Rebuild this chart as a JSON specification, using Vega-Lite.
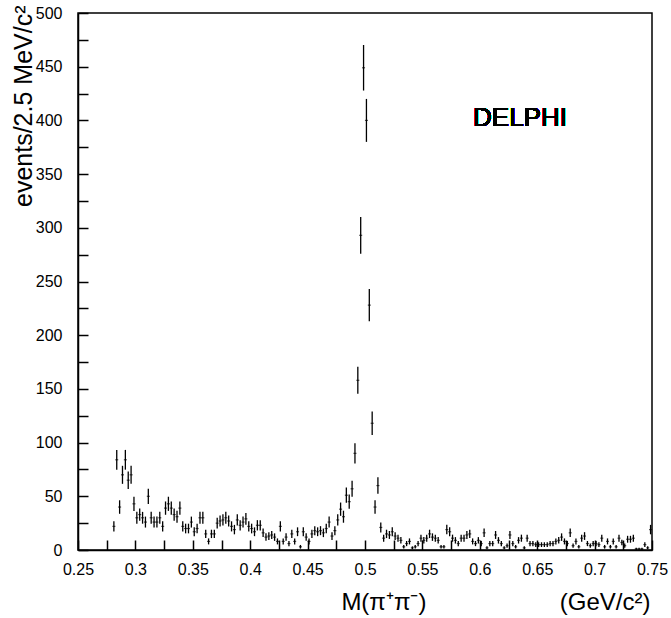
{
  "$schema": "https://vega.github.io/schema/vega-lite/v6.json",
  "width": 574,
  "height": 537,
  "autosize": {"type": "none"},
  "padding": {"left": 78, "top": 13, "right": 19, "bottom": 68},
  "background": "white",
  "config": {
    "view": {"stroke": "black", "strokeWidth": 1.5},
    "axis": {"labelFont": "Liberation Sans", "titleFont": "Liberation Sans", "labelColor": "black", "titleColor": "black", "domainColor": "black", "tickColor": "black", "titleFontWeight": "normal", "grid": false, "domainWidth": 1.5, "tickWidth": 1.5, "labelOverlap": false, "labelFlush": false, "ticks": true}
  },
  "data": {"values": [
    {"m":0.28125,"n":22,"e":4.7},{"m":0.28375,"n":84,"e":9.2},{"m":0.28625,"n":40,"e":6.3},{"m":0.28875,"n":70,"e":8.4},{"m":0.29125,"n":84,"e":9.2},{"m":0.29375,"n":65,"e":8.1},{"m":0.29625,"n":70,"e":8.4},{"m":0.29875,"n":43,"e":6.6},{"m":0.30125,"n":30,"e":5.5},{"m":0.30375,"n":33,"e":5.7},
    {"m":0.30625,"n":30,"e":5.5},{"m":0.30875,"n":26,"e":5.1},{"m":0.31125,"n":50,"e":7.1},{"m":0.31375,"n":30,"e":5.5},{"m":0.31625,"n":26,"e":5.1},{"m":0.31875,"n":26,"e":5.1},{"m":0.32125,"n":30,"e":5.5},{"m":0.32375,"n":22,"e":4.7},{"m":0.32625,"n":39,"e":6.2},{"m":0.32875,"n":43,"e":6.6},
    {"m":0.33125,"n":39,"e":6.2},{"m":0.33375,"n":33,"e":5.7},{"m":0.33625,"n":31,"e":5.6},{"m":0.33875,"n":39,"e":6.2},{"m":0.34125,"n":22,"e":4.7},{"m":0.34375,"n":20,"e":4.5},{"m":0.34625,"n":20,"e":4.5},{"m":0.34875,"n":26,"e":5.1},{"m":0.35125,"n":17,"e":4.1},{"m":0.35375,"n":20,"e":4.5},
    {"m":0.35625,"n":30,"e":5.5},{"m":0.35875,"n":30,"e":5.5},{"m":0.36125,"n":15,"e":3.9},{"m":0.36375,"n":8,"e":2.8},{"m":0.36625,"n":15,"e":3.9},{"m":0.36875,"n":15,"e":3.9},{"m":0.37125,"n":25,"e":5},{"m":0.37375,"n":27,"e":5.2},{"m":0.37625,"n":28,"e":5.3},{"m":0.37875,"n":30,"e":5.5},
    {"m":0.38125,"n":27,"e":5.2},{"m":0.38375,"n":22,"e":4.7},{"m":0.38625,"n":19,"e":4.4},{"m":0.38875,"n":28,"e":5.3},{"m":0.39125,"n":23,"e":4.8},{"m":0.39375,"n":26,"e":5.1},{"m":0.39625,"n":29,"e":5.4},{"m":0.39875,"n":22,"e":4.7},{"m":0.40125,"n":20,"e":4.5},{"m":0.40375,"n":17,"e":4.1},
    {"m":0.40625,"n":23,"e":4.8},{"m":0.40875,"n":23,"e":4.8},{"m":0.41125,"n":16,"e":4},{"m":0.41375,"n":12,"e":3.5},{"m":0.41625,"n":13,"e":3.6},{"m":0.41875,"n":14,"e":3.7},{"m":0.42125,"n":12,"e":3.5},{"m":0.42375,"n":8,"e":2.8},{"m":0.42625,"n":22,"e":4.7},{"m":0.42875,"n":8,"e":2.8},
    {"m":0.43125,"n":12,"e":3.5},{"m":0.43375,"n":6,"e":2.4},{"m":0.43625,"n":15,"e":3.9},{"m":0.43875,"n":8,"e":2.8},{"m":0.44125,"n":17,"e":4.1},{"m":0.44375,"n":3,"e":1.7},{"m":0.44625,"n":17,"e":4.1},{"m":0.44875,"n":12,"e":3.5},{"m":0.45125,"n":8,"e":2.8},{"m":0.45375,"n":15,"e":3.9},
    {"m":0.45625,"n":18,"e":4.2},{"m":0.45875,"n":17,"e":4.1},{"m":0.46125,"n":18,"e":4.2},{"m":0.46375,"n":16,"e":4},{"m":0.46625,"n":20,"e":4.5},{"m":0.46875,"n":26,"e":5.1},{"m":0.47125,"n":13,"e":3.6},{"m":0.47375,"n":18,"e":4.2},{"m":0.47625,"n":28,"e":5.3},{"m":0.47875,"n":38,"e":6.2},
    {"m":0.48125,"n":31,"e":5.6},{"m":0.48375,"n":51,"e":7.1},{"m":0.48625,"n":45,"e":6.7},{"m":0.48875,"n":57,"e":7.5},{"m":0.49125,"n":90,"e":9.5},{"m":0.49375,"n":158,"e":12.6},{"m":0.49625,"n":293,"e":17.1},{"m":0.49875,"n":449,"e":21.2},{"m":0.50125,"n":400,"e":20},{"m":0.50375,"n":228,"e":15.1},
    {"m":0.50625,"n":118,"e":10.9},{"m":0.50875,"n":40,"e":6.3},{"m":0.51125,"n":60,"e":7.7},{"m":0.51375,"n":21,"e":4.6},{"m":0.51625,"n":11,"e":3.3},{"m":0.51875,"n":15,"e":3.9},{"m":0.52125,"n":14,"e":3.7},{"m":0.52375,"n":17,"e":4.1},{"m":0.52625,"n":13,"e":3.6},{"m":0.52875,"n":11,"e":3.3},
    {"m":0.53125,"n":9,"e":3},{"m":0.53375,"n":3,"e":1.7},{"m":0.53625,"n":6,"e":2.4},{"m":0.53875,"n":8,"e":2.8},{"m":0.54125,"n":2,"e":1.4},{"m":0.54375,"n":3,"e":1.7},{"m":0.54625,"n":6,"e":2.4},{"m":0.54875,"n":11,"e":3.3},{"m":0.55125,"n":9,"e":3},{"m":0.55375,"n":11,"e":3.3},
    {"m":0.55625,"n":15,"e":3.9},{"m":0.55875,"n":12,"e":3.5},{"m":0.56125,"n":11,"e":3.3},{"m":0.56375,"n":9,"e":3},{"m":0.56625,"n":3,"e":1.7},{"m":0.56875,"n":3,"e":1.7},{"m":0.57125,"n":19,"e":4.4},{"m":0.57375,"n":17,"e":4.1},{"m":0.57625,"n":11,"e":3.3},{"m":0.57875,"n":9,"e":3},
    {"m":0.58125,"n":6,"e":2.4},{"m":0.58375,"n":11,"e":3.3},{"m":0.58625,"n":11,"e":3.3},{"m":0.58875,"n":14,"e":3.7},{"m":0.59125,"n":15,"e":3.9},{"m":0.59375,"n":8,"e":2.8},{"m":0.59625,"n":6,"e":2.4},{"m":0.59875,"n":9,"e":3},{"m":0.60125,"n":6,"e":2.4},{"m":0.60375,"n":16,"e":4},
    {"m":0.60625,"n":2,"e":1.4},{"m":0.60875,"n":6,"e":2.4},{"m":0.61125,"n":6,"e":2.4},{"m":0.61375,"n":14,"e":3.7},{"m":0.61625,"n":9,"e":3},{"m":0.61875,"n":6,"e":2.4},{"m":0.62125,"n":2,"e":1.4},{"m":0.62375,"n":4,"e":2},{"m":0.62625,"n":14,"e":3.7},{"m":0.62875,"n":6,"e":2.4},
    {"m":0.63125,"n":3,"e":1.7},{"m":0.63375,"n":9,"e":3},{"m":0.63625,"n":11,"e":3.3},{"m":0.63875,"n":2,"e":1.4},{"m":0.64125,"n":11,"e":3.3},{"m":0.64375,"n":6,"e":2.4},{"m":0.64625,"n":6,"e":2.4},{"m":0.64875,"n":5,"e":2.2},{"m":0.65125,"n":5,"e":2.2},{"m":0.65375,"n":5,"e":2.2},
    {"m":0.65625,"n":5,"e":2.2},{"m":0.65875,"n":5,"e":2.2},{"m":0.66125,"n":6,"e":2.4},{"m":0.66375,"n":6,"e":2.4},{"m":0.66625,"n":8,"e":2.8},{"m":0.66875,"n":9,"e":3},{"m":0.67125,"n":12,"e":3.5},{"m":0.67375,"n":8,"e":2.8},{"m":0.67625,"n":6,"e":2.4},{"m":0.67875,"n":16,"e":4},
    {"m":0.68125,"n":4,"e":2},{"m":0.68375,"n":8,"e":2.8},{"m":0.68625,"n":3,"e":1.7},{"m":0.68875,"n":11,"e":3.3},{"m":0.69125,"n":13,"e":3.6},{"m":0.69375,"n":6,"e":2.4},{"m":0.69625,"n":4,"e":2},{"m":0.69875,"n":6,"e":2.4},{"m":0.70125,"n":6,"e":2.4},{"m":0.70375,"n":5,"e":2.2},
    {"m":0.70625,"n":11,"e":3.3},{"m":0.70875,"n":3,"e":1.7},{"m":0.71125,"n":8,"e":2.8},{"m":0.71375,"n":3,"e":1.7},{"m":0.71625,"n":8,"e":2.8},{"m":0.71875,"n":3,"e":1.7},{"m":0.72125,"n":11,"e":3.3},{"m":0.72375,"n":7,"e":2.6},{"m":0.72625,"n":4,"e":2},{"m":0.72875,"n":10,"e":3.2},
    {"m":0.73125,"n":10,"e":3.2},{"m":0.73375,"n":11,"e":3.3},{"m":0.73625,"n":1,"e":1},{"m":0.73875,"n":1,"e":1},{"m":0.74125,"n":1,"e":1},{"m":0.74375,"n":5,"e":2.2},{"m":0.74625,"n":2,"e":1.4},{"m":0.74875,"n":19,"e":4.4}
  ]},
  "encoding": {
    "x": {"field": "m", "type": "quantitative",
      "scale": {"domain": [0.25, 0.75], "nice": false, "zero": false},
      "axis": {
        "values": [0.25,0.275,0.3,0.325,0.35,0.375,0.4,0.425,0.45,0.475,0.5,0.525,0.55,0.575,0.6,0.625,0.65,0.675,0.7,0.725,0.75],
        "tickSize": -10,
        "encode": {"ticks": {"update": {"y2": {"signal": "abs(datum.value*20 - round(datum.value*20)) < 0.000001 ? -10 : -5"}}}},
        "labelExpr": "abs(datum.value*20 - round(datum.value*20)) < 0.000001 ? format(datum.value, '~g') : ''",
        "labelFontSize": 16, "labelPadding": 21,
        "title": "M(π⁺π⁻)\u00a0\u00a0\u00a0\u00a0\u00a0\u00a0\u00a0\u00a0\u00a0\u00a0\u00a0\u00a0\u00a0\u00a0\u00a0\u00a0\u00a0\u00a0\u00a0\u00a0(GeV/c²)",
        "titleFontSize": 24, "titleAnchor": "end", "titleAlign": "right", "titleX": 572, "titleY": 59, "titleBaseline": "alphabetic"
      }
    },
    "y": {"field": "n", "type": "quantitative",
      "scale": {"domain": [0, 500], "nice": false},
      "axis": {
        "values": [0,25,50,75,100,125,150,175,200,225,250,275,300,325,350,375,400,425,450,475,500],
        "tickSize": -10,
        "encode": {"ticks": {"update": {"x2": {"signal": "datum.value % 50 === 0 ? 10 : 5"}}}},
        "labelExpr": "datum.value % 50 === 0 ? datum.label : ''",
        "labelFontSize": 16, "labelPadding": 26,
        "title": "events/2.5 MeV/c²",
        "titleFontSize": 25, "titleAngle": -90, "titleAlign": "right", "titleBaseline": "bottom", "titleX": -42, "titleY": -8
      }
    }
  },
  "layer": [
    {"mark": {"type": "errorbar", "color": "black", "thickness": 1.3},
     "encoding": {"yError": {"field": "e"}}},
    {"mark": {"type": "tick", "orient": "horizontal", "color": "black", "size": 3, "thickness": 1.2}},
    {"mark": {"type": "text", "text": "DELPHI", "font": "Liberation Sans", "fontSize": 26, "fontWeight": "normal", "fill": "black", "align": "center", "baseline": "middle"},
     "encoding": {"x": {"datum": 0.635}, "y": {"datum": 402}}}
  ]
}
